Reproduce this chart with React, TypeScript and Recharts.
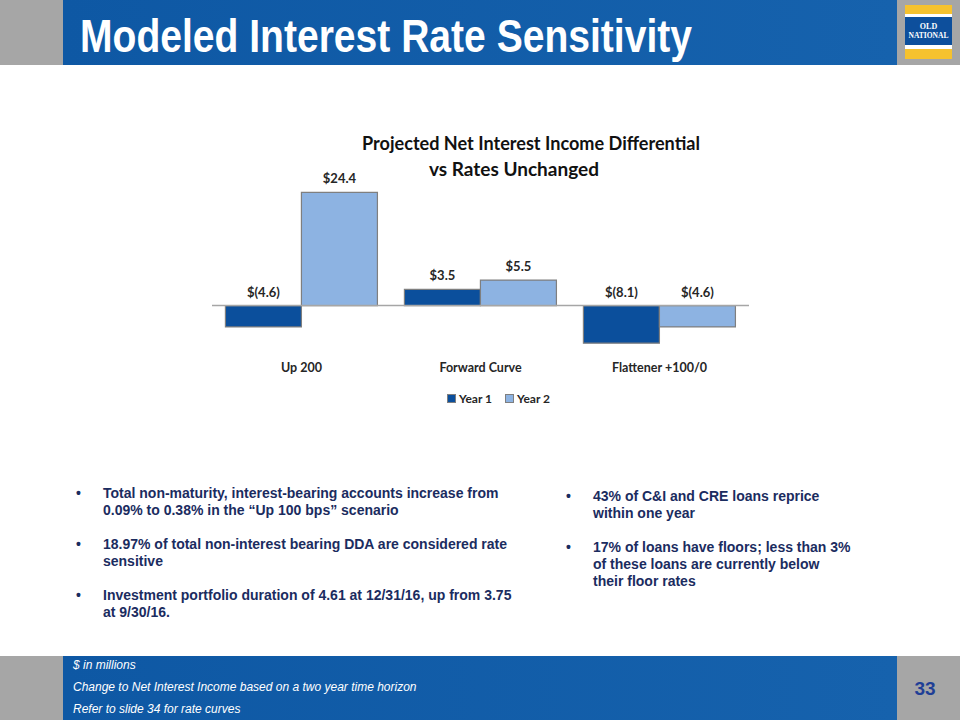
import React from 'react';
import { BarChart, Bar, XAxis, YAxis, ReferenceLine, LabelList, Legend } from 'recharts';

const categories = ['Up 200', 'Forward Curve', 'Flattener +100/0'];
const year1 = [-4.6, 3.5, -8.1];
const year2 = [24.4, 5.5, -4.6];
const seriesNames = ['Year 1', 'Year 2'];
const seriesColors = ['#0b4f9c', '#8db3e2'];

const leftBullets = [
  ['Total non-maturity, interest-bearing accounts increase from', '0.09% to 0.38% in the \u201cUp 100 bps\u201d scenario'],
  ['18.97% of total non-interest bearing DDA are considered rate', 'sensitive'],
  ['Investment portfolio duration of 4.61 at 12/31/16, up from 3.75', 'at 9/30/16.'],
];
const rightBullets = [
  ['43% of C&I and CRE loans reprice', 'within one year'],
  ['17% of loans have floors; less than 3%', 'of these loans are currently below', 'their floor rates'],
];
const footNotes = ['$ in millions', 'Change to Net Interest Income based on a two year time horizon', 'Refer to slide 34 for rate curves'];

const data = categories.map((c, i) => ({ name: c, y1: year1[i], y2: year2[i] }));

const fmt = (v: number) => (v < 0 ? `$(${Math.abs(v).toFixed(1)})` : `$${v.toFixed(1)}`);

const chartFont = 'Lato, "Open Sans", sans-serif';
const navy = '#1b2c5f';

const renderLabel = (props: any) => {
  const { x, y, width, height, value } = props;
  const top = Math.min(Number(y), Number(y) + Number(height));
  return (
    <text
      x={Number(x) + Number(width) / 2}
      y={top - 9}
      textAnchor="middle"
      fontFamily={chartFont}
      fontWeight={700}
      fontSize={13}
      fill="#262626"
    >
      {fmt(Number(value))}
    </text>
  );
};

const renderLegend = () => (
  <div style={{ position: 'relative', height: 20, fontFamily: chartFont, fontWeight: 700, fontSize: 12, color: '#262626' }}>
    {seriesNames.map((n, i) => (
      <div key={n} style={{ position: 'absolute', left: 447 + i * 58, top: 0, display: 'flex', alignItems: 'center', whiteSpace: 'nowrap' }}>
        <span style={{ display: 'inline-block', width: 7, height: 7, background: seriesColors[i], border: '1px solid #7f7f7f', marginRight: 3 }} />
        <span>{n}</span>
      </div>
    ))}
  </div>
);

const Bullets = ({ items, left, top, lineH, gap }: { items: string[][]; left: number; top: number; lineH: number; gap: number }) => {
  let y = top;
  const out: any[] = [];
  items.forEach((lines, i) => {
    out.push(
      <div key={'b' + i} style={{ position: 'absolute', left: left - 27, top: y, lineHeight: lineH + 'px', fontSize: 14 }}>•</div>
    );
    lines.forEach((l, j) => {
      out.push(
        <div key={'l' + i + '_' + j} style={{ position: 'absolute', left, top: y + j * lineH, lineHeight: lineH + 'px', whiteSpace: 'nowrap' }}>{l}</div>
      );
    });
    y += lines.length * lineH + gap;
  });
  return <>{out}</>;
};

export default function App() {
  return (
    <div style={{ position: 'absolute', left: 0, top: 0, width: 960, height: 720, background: '#ffffff', overflow: 'hidden' }}>
      <svg width={960} height={720} style={{ position: 'absolute', left: 0, top: 0 }}>
        <defs>
          <linearGradient id="hdr" x1="0" y1="0" x2="1" y2="0">
            <stop offset="0" stopColor="#0e58a4" />
            <stop offset="1" stopColor="#1662ad" />
          </linearGradient>
        </defs>
        <rect x={0} y={0} width={63} height={65} fill="#a6a6a6" />
        <rect x={63} y={0} width={834} height={65} fill="url(#hdr)" />
        <rect x={897} y={0} width={63} height={65} fill="#a6a6a6" />
        <text x={80} y={52} fill="#ffffff" fontFamily="'Liberation Sans', Arial, sans-serif" fontWeight={700} fontSize={47} textLength={612} lengthAdjust="spacingAndGlyphs">
          Modeled Interest Rate Sensitivity
        </text>
        {/* logo */}
        <rect x={905} y={5} width={47} height={9} fill="#f6c22e" />
        <rect x={905} y={14} width={47} height={3} fill="#ffffff" />
        <rect x={905} y={17} width={47} height={28} fill="#0d4f9c" />
        <rect x={905} y={45} width={47} height={4} fill="#ffffff" />
        <rect x={905} y={49} width={47} height={10} fill="#f6c22e" />
        <text x={928.5} y={29} textAnchor="middle" fill="#fff" fontFamily="'Liberation Serif', serif" fontWeight={700} fontSize={8}>OLD</text>
        <text x={928.5} y={38} textAnchor="middle" fill="#fff" fontFamily="'Liberation Serif', serif" fontWeight={700} fontSize={8} textLength={40} lengthAdjust="spacingAndGlyphs">NATIONAL</text>
        {/* footer */}
        <rect x={0} y={656} width={63} height={64} fill="#a6a6a6" />
        <rect x={63} y={656} width={834} height={64} fill="url(#hdr)" />
        <rect x={897} y={656} width={63} height={64} fill="#a6a6a6" />
        <text x={925} y={695} textAnchor="middle" fill="#1f3f96" fontFamily="'Liberation Sans', Arial, sans-serif" fontWeight={700} fontSize={19}>33</text>
        {footNotes.map((t, i) => (
          <text key={t} x={73} y={669 + i * 22} fill="#ffffff" fontFamily="'Liberation Sans', Arial, sans-serif" fontStyle="italic" fontSize={12}>
            {t}
          </text>
        ))}
        {/* chart title */}
        <text x={531} y={150} textAnchor="middle" fill="#111" fontFamily={chartFont} fontWeight={700} fontSize={19} textLength={338} lengthAdjust="spacingAndGlyphs">
          Projected Net Interest Income Differential
        </text>
        <text x={514} y={176} textAnchor="middle" fill="#111" fontFamily={chartFont} fontWeight={700} fontSize={19}>
          vs Rates Unchanged
        </text>
      </svg>

      <BarChart
        width={960}
        height={440}
        data={data}
        margin={{ top: 185, right: 211, left: 212, bottom: 38 }}
        barCategoryGap="7.5%"
        barGap={0}
        style={{ position: 'absolute', left: 0, top: 0 }}
      >
        <YAxis hide domain={[-10, 26]} />
        <XAxis
          dataKey="name"
          axisLine={false}
          tickLine={false}
          tickMargin={5}
          tick={{ fontFamily: chartFont, fontWeight: 700, fontSize: 12.5, fill: '#262626' }}
        />
        <ReferenceLine y={0} stroke="#a6a6a6" strokeWidth={1.5} />
        <Legend content={renderLegend} wrapperStyle={{ position: 'absolute', left: 0, top: 391, width: 960, height: 20 }} />
        <Bar dataKey="y1" name={seriesNames[0]} fill={seriesColors[0]} stroke="#7f7f7f" strokeWidth={1.2} isAnimationActive={false}>
          <LabelList dataKey="y1" content={renderLabel} />
        </Bar>
        <Bar dataKey="y2" name={seriesNames[1]} fill={seriesColors[1]} stroke="#7f7f7f" strokeWidth={1.2} isAnimationActive={false}>
          <LabelList dataKey="y2" content={renderLabel} />
        </Bar>
      </BarChart>

      <div style={{ position: 'absolute', left: 0, top: 0, fontFamily: "'Liberation Sans', Arial, sans-serif", fontWeight: 700, fontSize: 14, color: navy }}>
        <Bullets items={leftBullets} left={103} top={485} lineH={17} gap={17} />
        <Bullets items={rightBullets} left={593} top={488} lineH={17} gap={17} />
      </div>
    </div>
  );
}
